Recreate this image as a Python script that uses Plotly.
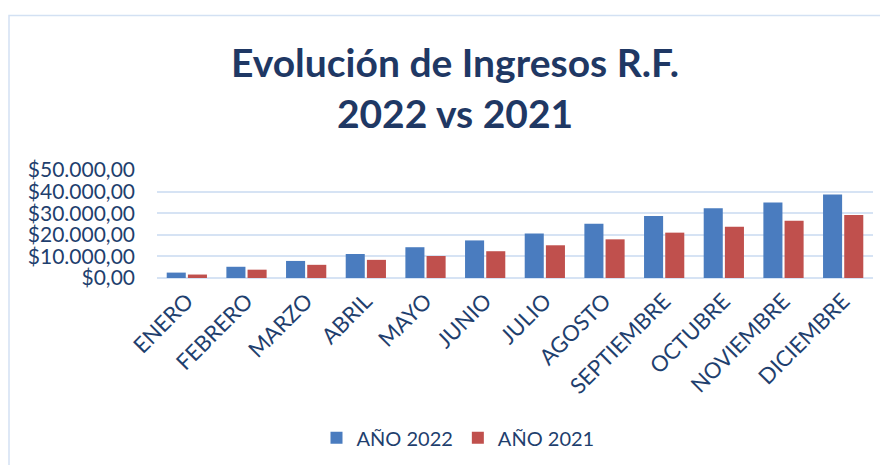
import plotly.graph_objects as go

meses = ["ENERO", "FEBRERO", "MARZO", "ABRIL", "MAYO", "JUNIO", "JULIO",
         "AGOSTO", "SEPTIEMBRE", "OCTUBRE", "NOVIEMBRE", "DICIEMBRE"]
anio_2022 = [2500, 5200, 7900, 11100, 14250, 17400, 20600, 25100, 28700, 32300, 35000, 38700]
anio_2021 = [1600, 3850, 6100, 8400, 10200, 12400, 15150, 17900, 21000, 23750, 26500, 29200]

# page body has an 8px margin, so the figure is sized/positioned accordingly
OFF = 8
W, H = 888 - 2 * OFF, 473 - 2 * OFF
L, R, T, B = 157 - OFF, 873 - OFF, 170 - OFF, 280.5 - OFF

def px_x(x):
    return (x - OFF - L) / (R - L)

def px_y(y):
    return (B - (y - OFF)) / (B - T)

fig = go.Figure()
fig.add_trace(go.Bar(x=meses, y=anio_2022, name="AÑO 2022",
                     marker=dict(color="#4a7cbf", line=dict(width=0))))
fig.add_trace(go.Bar(x=meses, y=anio_2021, name="AÑO 2021",
                     marker=dict(color="#c0504d", line=dict(width=0))))

txt = "#1f3f6e"
fig.update_layout(
    width=W, height=H,
    margin=dict(l=L, r=W - R, t=T, b=H - B, pad=0),
    paper_bgcolor="white", plot_bgcolor="white",
    separators=",.",
    bargap=0.29, bargroupgap=0.1,
    font=dict(family="Lato, Open Sans, sans-serif", color=txt),
    title=dict(text="<b>Evolución de Ingresos R.F.<br>2022 vs 2021</b>",
               font=dict(size=39, color="#1f3864", family="Lato, Open Sans, sans-serif"),
               x=(455 - OFF) / W, xanchor="center", xref="container",
               y=1 - 69 / H, yanchor="top", yref="container"),
    showlegend=True,
    legend=dict(orientation="h", x=px_x(458), xanchor="center",
                y=px_y(444), yanchor="middle",
                font=dict(size=20, color=txt), itemwidth=30,
                traceorder="normal"),
    xaxis=dict(tickangle=-45, tickfont=dict(size=22, color=txt),
               showgrid=False, showline=False, ticks="",
               ticklabelstandoff=5, automargin=False),
    yaxis=dict(range=[0, 50000], dtick=10000, tickformat="$,.2f",
               tickfont=dict(size=21, color=txt),
               gridcolor="#d6e3f4", gridwidth=2,
               zeroline=True, zerolinecolor="#d6e3f4", zerolinewidth=2,
               showline=False, ticks="", ticklabelstandoff=21, automargin=False),
    shapes=[dict(type="rect", xref="paper", yref="paper",
                 x0=(1 - L) / (R - L), x1=(W + 20 - L) / (R - L),
                 y0=(B - (H + 20)) / (B - T), y1=(B - 4) / (B - T),
                 line=dict(color="#d3e1f3", width=1.5), layer="below")],
)

fig.write_html("out.html")
